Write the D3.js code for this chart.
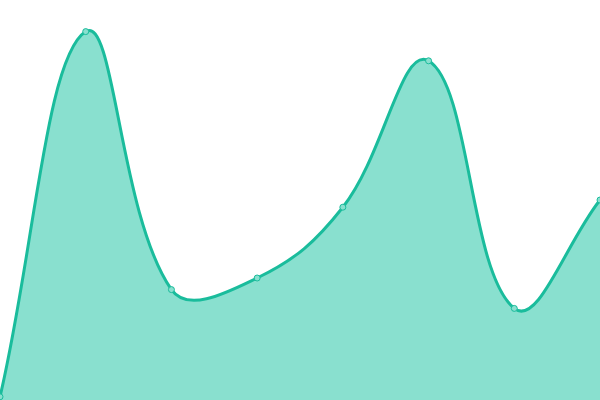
<!DOCTYPE html>
<html><head><meta charset="utf-8">
<script src="https://cdn.jsdelivr.net/npm/d3@7"></script>
<style>html,body{margin:0;padding:0;background:#fff;overflow:hidden}</style>
</head><body>
<svg id="c" width="600" height="400"></svg>
<script>
const categories = ["A","B","C","D","E","F","G","H"];
const values = [0.8, 92.1, 27.6, 30.5, 48.2, 84.8, 22.9, 50];
const yDomain = [0, 100];

const W = 600, H = 400;
const svg = d3.select("#c");
const x = d3.scalePoint().domain(categories).range([0, W]);
const y = d3.scaleLinear().domain(yDomain).range([H, 0]);
const data = categories.map((c,i)=>({c, v: values[i]}));

// Distance-weighted spline (tension 0.4), control points capped to plot area
function SplineCurve(context, t, bounds){ this._context = context; this._t = t; this._b = bounds; }
SplineCurve.prototype = {
  areaStart(){ this._line = 0; },
  areaEnd(){ this._line = NaN; },
  lineStart(){ this._pts = []; },
  point(px, py){ this._pts.push([+px, +py]); },
  lineEnd(){
    const p = this._pts, n = p.length, c = this._context, t = this._t, b = this._b;
    if (n) {
      if (this._line) c.lineTo(p[0][0], p[0][1]); else c.moveTo(p[0][0], p[0][1]);
      const cap = (v, lo, hi) => Math.max(lo, Math.min(hi, v));
      const cps = p.map((cur, i) => {
        const prev = p[i-1] || cur, next = p[i+1] || cur;
        const d01 = Math.hypot(cur[0]-prev[0], cur[1]-prev[1]);
        const d12 = Math.hypot(next[0]-cur[0], next[1]-cur[1]);
        let s01 = d01/(d01+d12), s12 = d12/(d01+d12);
        if (isNaN(s01)) s01 = 0; if (isNaN(s12)) s12 = 0;
        const fa = t*s01, fb = t*s12;
        const dx = next[0]-prev[0], dy = next[1]-prev[1];
        return {
          c1: [cap(cur[0]-fa*dx, b[0], b[2]), cap(cur[1]-fa*dy, b[1], b[3])],
          c2: [cap(cur[0]+fb*dx, b[0], b[2]), cap(cur[1]+fb*dy, b[1], b[3])]
        };
      });
      for (let i = 1; i < n; i++) {
        c.bezierCurveTo(cps[i-1].c2[0], cps[i-1].c2[1], cps[i].c1[0], cps[i].c1[1], p[i][0], p[i][1]);
      }
    }
    if (this._line || (this._line !== 0 && n === 1)) c.closePath();
    this._line = 1 - this._line;
  }
};
const curve = ctx => new SplineCurve(ctx, 0.4, [0, 0, W, H]);

svg.append("path").datum(data)
  .attr("fill", "#89e0cf")
  .attr("d", d3.area().x(d=>x(d.c)).y0(y(0)).y1(d=>y(d.v)).curve(curve));
svg.append("path").datum(data)
  .attr("fill", "none").attr("stroke", "#1abc9c").attr("stroke-width", 3)
  .attr("d", d3.line().x(d=>x(d.c)).y(d=>y(d.v)).curve(curve));
svg.selectAll("circle").data(data).join("circle")
  .attr("cx", d=>x(d.c)).attr("cy", d=>y(d.v)).attr("r", 3)
  .attr("fill", "#89e0cf").attr("stroke", "#1abc9c").attr("stroke-width", 1);
</script>
</body></html>
